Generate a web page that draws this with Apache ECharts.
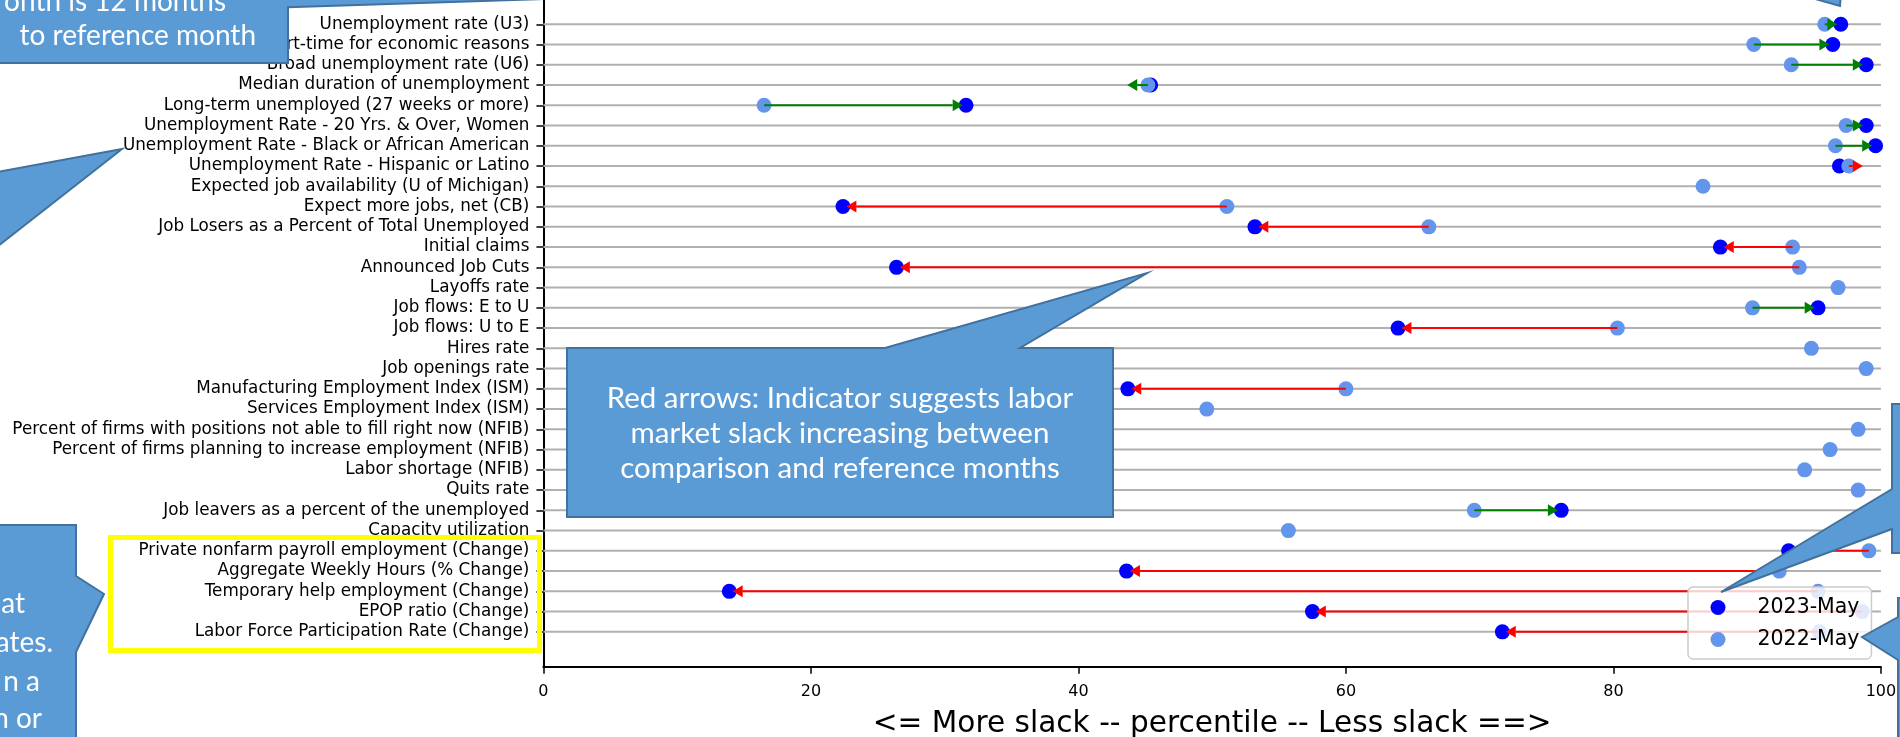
<!DOCTYPE html>
<html>
<head>
<meta charset="utf-8">
<script src="https://cdn.jsdelivr.net/npm/echarts@6.0.0/dist/echarts.min.js"></script>
<style>
  html, body { margin: 0; padding: 0; background: #ffffff; }
  #chart { width: 1900px; height: 737px; }
</style>
</head>
<body>
<div id="chart"></div>
<script>
// ---------------- data ----------------
const categories = [
  'Unemployment rate (U3)',
  'Part-time for economic reasons',
  'Broad unemployment rate (U6)',
  'Median duration of unemployment',
  'Long-term unemployed (27 weeks or more)',
  'Unemployment Rate - 20 Yrs. & Over, Women',
  'Unemployment Rate - Black or African American',
  'Unemployment Rate - Hispanic or Latino',
  'Expected job availability (U of Michigan)',
  'Expect more jobs, net (CB)',
  'Job Losers as a Percent of Total Unemployed',
  'Initial claims',
  'Announced Job Cuts',
  'Layoffs rate',
  'Job flows: E to U',
  'Job flows: U to E',
  'Hires rate',
  'Job openings rate',
  'Manufacturing Employment Index (ISM)',
  'Services Employment Index (ISM)',
  'Percent of firms with positions not able to fill right now (NFIB)',
  'Percent of firms planning to increase employment (NFIB)',
  'Labor shortage (NFIB)',
  'Quits rate',
  'Job leavers as a percent of the unemployed',
  'Capacity utilization',
  'Private nonfarm payroll employment (Change)',
  'Aggregate Weekly Hours (% Change)',
  'Temporary help employment (Change)',
  'EPOP ratio (Change)',
  'Labor Force Participation Rate (Change)'
];

// reference month (2023-May) percentiles; null = not yet available
const may2023 = [
  97.0, 96.4, 98.9, 45.4, 31.6, 98.9, 99.6, 96.9, null, 22.4,
  53.2, 88.0, 26.4, null, 95.3, 63.9, null, null, 43.7, null,
  null, null, null, null, 76.1, null, 93.1, 43.6, 13.9, 57.5,
  71.7
];

// comparison month (2022-May) percentiles
const may2022 = [
  95.8, 90.5, 93.3, 45.2, 16.5, 97.4, 96.6, 97.6, 86.7, 51.1,
  66.2, 93.4, 93.9, 96.8, 90.4, 80.3, 94.8, 98.9, 60.0, 49.6,
  98.3, 96.2, 94.3, 98.3, 69.6, 55.7, 99.1, 92.4, 95.3, 98.6,
  95.4
];

const xTicks = [0, 20, 40, 60, 80, 100];
const seriesNames = ['2023-May', '2022-May'];
const xTitle = '<= More slack -- percentile -- Less slack ==>';

// ---------------- styles ----------------
const DARK = '#0000ff';
const LIGHT = '#6495ed';
const GREEN = '#008000';
const RED = '#ff0000';
const ROWLINE = '#b0b0b0';
const ARROW_BACKOFF = 1.0;   // data units the arrow stops short of the new value
const HEAD_LEN = 10;
const HEAD_W = 6;
const CALLOUT_FILL = '#5b9bd5';
const CALLOUT_STROKE = '#41719c';

const rowIdx = categories.map((c, i) => i);
const darkPts = [];
const lightPts = [];
const arrowData = [];
rowIdx.forEach(i => {
  if (may2023[i] != null) darkPts.push([may2023[i], i]);
  if (may2022[i] != null) lightPts.push([may2022[i], i]);
  if (may2023[i] != null && may2022[i] != null) arrowData.push([may2022[i], may2023[i], i]);
});
const rowData = rowIdx.map(i => [xTicks[0], i, xTicks[xTicks.length - 1]]);

const chart = echarts.init(document.getElementById('chart'), null, { renderer: 'canvas' });

function calloutPoly(points) {
  return {
    type: 'polygon', z: 100, silent: true,
    shape: { points: points },
    style: { fill: CALLOUT_FILL, stroke: CALLOUT_STROKE, lineWidth: 2 }
  };
}
function calloutText(text, x, y, align, size) {
  return {
    type: 'text', z: 101, silent: true, x: x, y: y,
    style: { text: text, fill: '#ffffff', font: size + 'px Lato', textAlign: align, textVerticalAlign: 'middle' }
  };
}

const option = {
  animation: false,
  backgroundColor: '#ffffff',
  grid: { left: 543.4, right: 19.1, top: 0, bottom: 70.3, containLabel: false, outerBoundsMode: 'none' },
  xAxis: {
    type: 'value', min: xTicks[0], max: xTicks[xTicks.length - 1], interval: 20,
    name: xTitle, nameLocation: 'middle', nameGap: 43,
    nameTextStyle: { fontFamily: 'DejaVu Sans', fontSize: 29.6, color: '#000' },
    axisLine: { show: true, onZero: false, lineStyle: { color: '#000', width: 2 } },
    axisTick: { show: true, length: 7, lineStyle: { color: '#000', width: 1.5 } },
    axisLabel: { fontFamily: 'DejaVu Sans', fontSize: 16, color: '#000', margin: 17 },
    splitLine: { show: false }
  },
  yAxis: {
    type: 'value', inverse: true, min: -1.2, max: 31.72,
    axisLine: { show: true, onZero: false, lineStyle: { color: '#000', width: 2 } },
    axisTick: { show: true, length: 7, customValues: rowIdx, lineStyle: { color: '#000', width: 1.5 } },
    axisLabel: {
      show: true, customValues: rowIdx, fontFamily: 'DejaVu Sans', fontSize: 16.8, color: '#000', margin: 14,
      formatter: v => categories[Math.round(v)]
    },
    splitLine: { show: false }
  },
  legend: {
    orient: 'vertical', left: 1688, top: 587, z: 10,
    data: seriesNames,
    icon: 'circle', itemWidth: 15, itemHeight: 15, itemGap: 11,
    padding: [10, 12, 9, 22.5],
    backgroundColor: 'rgba(255,255,255,0.8)', borderColor: '#cccccc', borderWidth: 1.5, borderRadius: 5,
    textStyle: { fontFamily: 'DejaVu Sans', fontSize: 20.5, color: '#000', lineHeight: 20, padding: [0, 0, 0, 27] }
  },
  series: [
    {
      type: 'custom', name: 'rows', z: 1, silent: true,
      data: rowData, encode: { x: [0, 2], y: 1 },
      renderItem: (params, api) => {
        const a = api.coord([api.value(0), api.value(1)]);
        const b = api.coord([api.value(2), api.value(1)]);
        return { type: 'line', shape: { x1: a[0], y1: a[1], x2: b[0], y2: b[1] },
                 style: { stroke: ROWLINE, lineWidth: 2 } };
      }
    },
    {
      type: 'scatter', name: seriesNames[0], z: 2, data: darkPts,
      symbol: 'circle', symbolSize: 15, itemStyle: { color: DARK, opacity: 1 }
    },
    {
      type: 'scatter', name: seriesNames[1], z: 3, data: lightPts,
      symbol: 'circle', symbolSize: 15, itemStyle: { color: LIGHT, opacity: 1 }
    },
    {
      type: 'custom', name: 'arrows', z: 4, silent: true,
      data: arrowData, encode: { x: [0, 1], y: 2 },
      renderItem: (params, api) => {
        const oldV = api.value(0), newV = api.value(1), i = api.value(2);
        const diff = newV - oldV;
        const s = diff > 0 ? 1 : -1;
        const baseV = oldV + diff - s * ARROW_BACKOFF;
        const p0 = api.coord([oldV, i]);
        const pb = api.coord([baseV, i]);
        const dir = pb[0] >= p0[0] ? 1 : -1;
        const tip = pb[0] + dir * HEAD_LEN;
        const color = diff > 0 ? GREEN : RED;
        return {
          type: 'group',
          children: [
            { type: 'line', shape: { x1: p0[0], y1: p0[1], x2: pb[0], y2: pb[1] },
              style: { stroke: color, lineWidth: 2 } },
            { type: 'polygon', shape: { points: [[pb[0], pb[1] - HEAD_W], [pb[0], pb[1] + HEAD_W], [tip, pb[1]]] },
              style: { fill: color } }
          ]
        };
      }
    }
  ],
  graphic: {
    elements: [
      // top-left callout (box mostly off-canvas)
      calloutPoly([[-20, 63], [288, 63], [288, 7.3], [1000, -15.7], [1000, -80], [-20, -80]]),
      calloutText('onth is 12 months', 226, 2, 'right', 28),
      calloutText('to reference month', 256, 36, 'right', 28),
      // small pointer tip at top right
      calloutPoly([[1748, -20], [1842, -20], [1840, 6]]),
      // left pointer to "Black or African American"
      calloutPoly([[-30, 177], [122, 149], [-30, 268]]),
      // bottom-left callout
      calloutPoly([[-20, 525], [76, 525], [76, 576], [104, 594], [76, 652], [76, 780], [-20, 780]]),
      calloutText('at', 25, 604, 'right', 28),
      calloutText('ates.', 53, 643, 'right', 28),
      calloutText('n a', 40, 682, 'right', 28),
      calloutText('n or', 42, 719, 'right', 28),
      // centre callout
      calloutPoly([[567, 348], [885, 348], [1147, 273], [1020, 348], [1113, 348], [1113, 517], [567, 517]]),
      calloutText('Red arrows: Indicator suggests labor', 840, 398, 'center', 29.5),
      calloutText('market slack increasing between', 840, 433, 'center', 29.5),
      calloutText('comparison and reference months', 840, 468, 'center', 29.5),
      // right callouts pointing at the legend
      calloutPoly([[1892, 404], [1930, 404], [1930, 553], [1892, 553], [1892, 529], [1721, 592], [1892, 489]]),
      calloutPoly([[1898, 598], [1930, 598], [1930, 780], [1898, 780], [1898, 660], [1862, 637], [1898, 617]]),
      // yellow highlight box
      {
        type: 'rect', z: 99, silent: true,
        shape: { x: 110.5, y: 537.5, width: 429, height: 113 },
        style: { fill: 'none', stroke: '#ffff00', lineWidth: 5 }
      }
    ]
  }
};

chart.setOption(option);
</script>
</body>
</html>
